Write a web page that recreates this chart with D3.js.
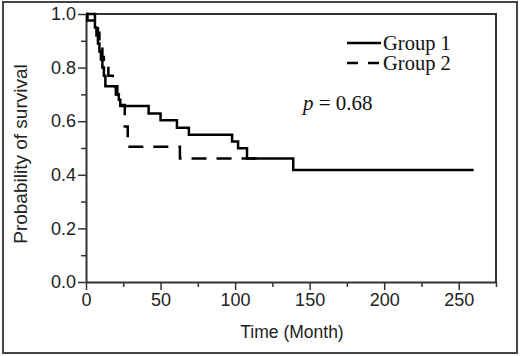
<!DOCTYPE html>
<html lang="en">
  <head>
    <meta charset="utf-8">
    <title>Survival</title>
    <script src="https://d3js.org/d3.v7.js"></script>
    <style>
      body { margin: 0; background: #fff; }
    </style>
  </head>

  <body>

  <script>

// survival data (time in months, probability)
  var g1Time = [0, 1, 6, 7, 8, 9, 10, 11, 12, 13, 21, 22, 23, 42, 50, 61, 69, 98, 102, 108, 139, 260];
  var g1Surv = [1.0, 0.976, 0.95, 0.92, 0.89, 0.86, 0.83, 0.80, 0.77, 0.73, 0.70, 0.68, 0.657, 0.629, 0.604, 0.576, 0.549, 0.524, 0.499, 0.461, 0.418, 0.418];

  var g2Time = [0, 6, 8, 9, 10, 11, 12, 15, 18, 20, 22, 26, 28, 63, 120];
  var g2Surv = [1.0, 0.975, 0.93, 0.90, 0.87, 0.84, 0.81, 0.77, 0.73, 0.70, 0.66, 0.58, 0.505, 0.461, 0.461];

  var xTicks = [0, 50, 100, 150, 200, 250];
  var xMinor = [25, 75, 125, 175, 225, 275];
  var yTicks = [0, 0.2, 0.4, 0.6, 0.8, 1.0];
  var yMinor = [0.1, 0.3, 0.5, 0.7, 0.9];
  var groups = ["Group 1", "Group 2"];
  var pText = "0.68";

  var w = 520;
  var h = 356;
  var plotL = 86, plotR = 496, plotT = 14, plotB = 282;

  var svg = d3.select("body")
    .append("svg")
      .attr("width", w)
      .attr("height", h);

  // outer border
  svg.append("rect")
      .attr("x", 3)
      .attr("y", 2)
      .attr("width", 514)
      .attr("height", 351)
      .attr("fill", "none")
      .attr("stroke", "#444")
      .attr("stroke-width", 2);

  var x = d3.scaleLinear()
      .domain([0, 275])
      .range([plotL, plotR]);

  var y = d3.scaleLinear()
      .domain([0, 1])
      .range([plotB, plotT]);

  var axisColor = "#333";

  // minor ticks first
  svg.append("g")
      .attr("transform", "translate(0," + plotB + ")")
      .call(d3.axisBottom(x).tickValues(xMinor).tickSize(5).tickFormat(""))
      .call(g => g.select(".domain").remove());

  svg.append("g")
      .attr("transform", "translate(" + plotL + ",0)")
      .call(d3.axisLeft(y).tickValues(yMinor).tickSize(5).tickFormat(""))
      .call(g => g.select(".domain").remove());

  svg.append("g")
      .attr("transform", "translate(0," + plotB + ")")
      .call(d3.axisBottom(x).tickValues(xTicks).tickSize(8).tickSizeOuter(0).tickPadding(3));

  svg.append("g")
      .attr("transform", "translate(" + plotL + ",0)")
      .call(d3.axisLeft(y).tickValues(yTicks).tickSize(8).tickSizeOuter(0).tickPadding(2).tickFormat(d3.format(".1f")));

  svg.selectAll(".tick line").attr("stroke", axisColor).attr("stroke-width", 1.5);
  svg.selectAll(".domain").attr("stroke", axisColor).attr("stroke-width", 2);
  svg.selectAll(".tick text")
      .attr("font-family", "'Liberation Sans', Arial, sans-serif")
      .attr("font-size", 18)
      .attr("fill", "#222");

  // top and right frame
  svg.append("path")
      .attr("d", "M" + plotL + "," + plotT + "H" + plotR + "V" + plotB)
      .attr("fill", "none")
      .attr("stroke", axisColor)
      .attr("stroke-width", 2);

  // curves
  var line = d3.line()
      .x(d => x(d[0]))
      .y(d => y(d[1]))
      .curve(d3.curveStepAfter);

  svg.append("path")
      .datum(d3.zip(g2Time, g2Surv))
      .attr("d", line)
      .attr("fill", "none")
      .attr("stroke", "#000")
      .attr("stroke-width", 2.5)
      .attr("stroke-dasharray", "15,10");

  svg.append("path")
      .datum(d3.zip(g1Time, g1Surv))
      .attr("d", line)
      .attr("fill", "none")
      .attr("stroke", "#000")
      .attr("stroke-width", 2.5);

  // legend
  var serif = "'Liberation Serif', 'Times New Roman', serif";
  var leg = svg.append("g");
  groups.forEach(function(name, i) {
    var ly = 43 + i * 20;
    leg.append("line")
        .attr("x1", 347).attr("x2", 381)
        .attr("y1", ly).attr("y2", ly)
        .attr("stroke", "#000")
        .attr("stroke-width", 2.5)
        .attr("stroke-dasharray", i == 1 ? "11,10" : null);
    leg.append("text")
        .attr("x", 383)
        .attr("y", ly + 7)
        .attr("font-family", serif)
        .attr("font-size", 20.5)
        .attr("fill", "#111")
        .text(name);
  });

  var pt = svg.append("text")
      .attr("x", 303)
      .attr("y", 110)
      .attr("font-family", serif)
      .attr("font-size", 21)
      .attr("fill", "#111");
  pt.append("tspan").attr("font-style", "italic").text("p");
  pt.append("tspan").text(" = " + pText);

  // axis titles
  svg.append("text")
      .attr("x", 292)
      .attr("y", 338)
      .attr("text-anchor", "middle")
      .attr("font-family", "'Liberation Sans', Arial, sans-serif")
      .attr("font-size", 17.5)
      .attr("fill", "#222")
      .text("Time (Month)");

  svg.append("text")
      .attr("transform", "translate(27,154) rotate(-90)")
      .attr("text-anchor", "middle")
      .attr("font-family", "'Liberation Sans', Arial, sans-serif")
      .attr("font-size", 19)
      .attr("fill", "#222")
      .text("Probability of survival");

    </script>

  </body>

</html>
